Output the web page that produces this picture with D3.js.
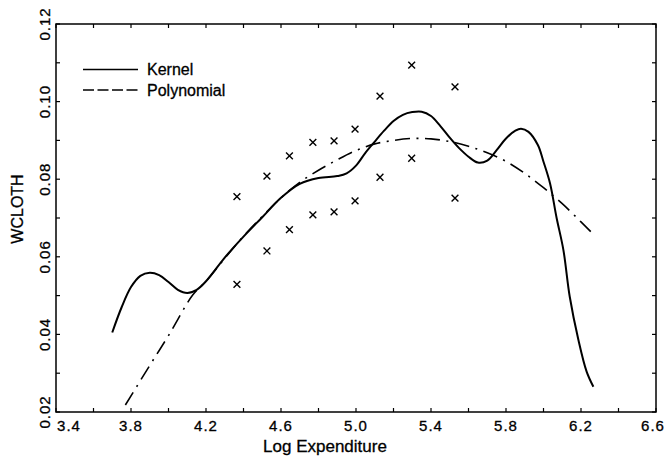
<!DOCTYPE html>
<html>
<head>
<meta charset="utf-8">
<script src="https://cdn.jsdelivr.net/npm/d3@7"></script>
<style>
  html, body { margin: 0; padding: 0; background: #fff; }
  svg text { font-family: "Liberation Sans", Arial, Helvetica, sans-serif; fill: #000; stroke: #000; stroke-width: 0.3; }
</style>
</head>
<body>
<svg id="chart" width="668" height="458"></svg>
<script>
// ---- data ----
const xTicks = [3.4, 3.8, 4.2, 4.6, 5.0, 5.4, 5.8, 6.2, 6.6];
const yTicks = [0.02, 0.04, 0.06, 0.08, 0.10, 0.12];
const seriesNames = ["Kernel", "Polynomial"];

const kernelX = [3.70, 3.75, 3.80, 3.85, 3.90, 3.95, 4.00, 4.05, 4.10, 4.15, 4.20, 4.30, 4.40, 4.50, 4.60, 4.70, 4.80, 4.90, 4.95, 5.00, 5.05, 5.10, 5.15, 5.20, 5.25, 5.30, 5.35, 5.40, 5.45, 5.50, 5.55, 5.60, 5.65, 5.70, 5.75, 5.80, 5.85, 5.88, 5.92, 5.97, 6.00, 6.035, 6.07, 6.106, 6.14, 6.186, 6.23, 6.266];
const kernelY = [0.0405, 0.0470, 0.0522, 0.0551, 0.0559, 0.0553, 0.0535, 0.0515, 0.0507, 0.0515, 0.0537, 0.0598, 0.0652, 0.0702, 0.0752, 0.0788, 0.0803, 0.0808, 0.0815, 0.0835, 0.0868, 0.0897, 0.0925, 0.0950, 0.0966, 0.0973, 0.0974, 0.0963, 0.0937, 0.0907, 0.0880, 0.0858, 0.0843, 0.0848, 0.0875, 0.0905, 0.0925, 0.0930, 0.0922, 0.0888, 0.0845, 0.0789, 0.0700, 0.0618, 0.0497, 0.0386, 0.0304, 0.0265];

const polyX = [3.77, 3.90, 4.00, 4.13, 4.20, 4.30, 4.40, 4.50, 4.60, 4.70, 4.80, 4.90, 5.00, 5.10, 5.20, 5.30, 5.40, 5.50, 5.60, 5.70, 5.80, 5.90, 6.00, 6.10, 6.20, 6.27];
const polyY = [0.0218, 0.0320, 0.0397, 0.0502, 0.0537, 0.0596, 0.0653, 0.0704, 0.0752, 0.0792, 0.0823, 0.0850, 0.0874, 0.0891, 0.0900, 0.0905, 0.0904, 0.0897, 0.0885, 0.0868, 0.0846, 0.0815, 0.0778, 0.0737, 0.0690, 0.0656];

const obsX = [4.365, 4.525, 4.645, 4.770, 4.883, 4.995, 5.128, 5.297, 5.528];
const obsHigh = [0.0755, 0.0808, 0.0860, 0.0895, 0.0899, 0.0929, 0.1014, 0.1094, 0.1038];
const obsLow = [0.0529, 0.0615, 0.0670, 0.0708, 0.0716, 0.0744, 0.0805, 0.0854, 0.0751];

// ---- layout ----
const svg = d3.select("#chart");
const L = 56, R = 656, T = 24, B = 412;
const x = d3.scaleLinear().domain([3.4, 6.6]).range([L, R]);
const y = d3.scaleLinear().domain([0.02, 0.12]).range([B, T]);

const g = svg.append("g");

// frame
g.append("rect").attr("x", L).attr("y", T).attr("width", R - L).attr("height", B - T)
  .attr("fill", "none").attr("stroke", "#000").attr("stroke-width", 1.5);

// ticks (inward, all four sides)
const xMinor = d3.range(0, 17).map(i => 3.4 + i * 0.2);
const yMinor = d3.range(0, 11).map(i => 0.02 + i * 0.01);
const tl = 4;
xMinor.forEach(v => {
  g.append("line").attr("x1", x(v)).attr("x2", x(v)).attr("y1", B).attr("y2", B - tl).attr("stroke", "#000").attr("stroke-width", 1.2);
  g.append("line").attr("x1", x(v)).attr("x2", x(v)).attr("y1", T).attr("y2", T + tl).attr("stroke", "#000").attr("stroke-width", 1.2);
});
yMinor.forEach(v => {
  g.append("line").attr("x1", L).attr("x2", L + tl).attr("y1", y(v)).attr("y2", y(v)).attr("stroke", "#000").attr("stroke-width", 1.2);
  g.append("line").attr("x1", R).attr("x2", R - tl).attr("y1", y(v)).attr("y2", y(v)).attr("stroke", "#000").attr("stroke-width", 1.2);
});

// x tick labels
xTicks.forEach((v, i) => {
  let px = x(v);
  if (i === 0) px += 13;
  if (i === xTicks.length - 1) px -= 3;
  g.append("text").attr("x", px).attr("y", 431).attr("text-anchor", "middle")
    .attr("font-size", 15).attr("letter-spacing", 1).text(d3.format(".1f")(v));
});
// y tick labels (rotated)
yTicks.forEach(v => {
  g.append("text").attr("transform", `translate(50,${y(v)}) rotate(-90)`)
    .attr("text-anchor", "middle").attr("font-size", 15).attr("letter-spacing", 1)
    .text(d3.format(".2f")(v));
});

// axis titles
g.append("text").attr("x", 325).attr("y", 452).attr("text-anchor", "middle")
  .attr("font-size", 17).text("Log Expenditure");
g.append("text").attr("transform", "translate(23,209) rotate(-90)").attr("text-anchor", "middle")
  .attr("font-size", 16).text("WCLOTH");

// curves
const line = d3.line().x(d => x(d[0])).y(d => y(d[1])).curve(d3.curveCatmullRom.alpha(0.5));
g.append("path").datum(polyX.map((v, i) => [v, polyY[i]]))
  .attr("d", line).attr("fill", "none").attr("stroke", "#000").attr("stroke-width", 1.6)
  .attr("stroke-dasharray", "15,6.5,2,6.5");
g.append("path").datum(kernelX.map((v, i) => [v, kernelY[i]]))
  .attr("d", line).attr("fill", "none").attr("stroke", "#000").attr("stroke-width", 2);

// observation markers (x)
const obs = obsX.flatMap((v, i) => [[v, obsHigh[i]], [v, obsLow[i]]]);
const s = 3.4;
obs.forEach(d => {
  const cx = x(d[0]), cy = y(d[1]);
  g.append("path").attr("d", `M${cx - s},${cy - s}L${cx + s},${cy + s}M${cx - s},${cy + s}L${cx + s},${cy - s}`)
    .attr("stroke", "#000").attr("stroke-width", 1.4).attr("fill", "none");
});

// legend
const legY = [69.5, 90];
const legDash = [null, "11,3.5"];
seriesNames.forEach((name, i) => {
  const ln = g.append("line").attr("x1", 83).attr("x2", 138).attr("y1", legY[i]).attr("y2", legY[i])
    .attr("stroke", "#000").attr("stroke-width", 1.3);
  if (legDash[i]) ln.attr("stroke-dasharray", legDash[i]);
  g.append("text").attr("x", 147).attr("y", legY[i] + 5.5).attr("font-size", 16).text(name);
});
</script>
</body>
</html>
